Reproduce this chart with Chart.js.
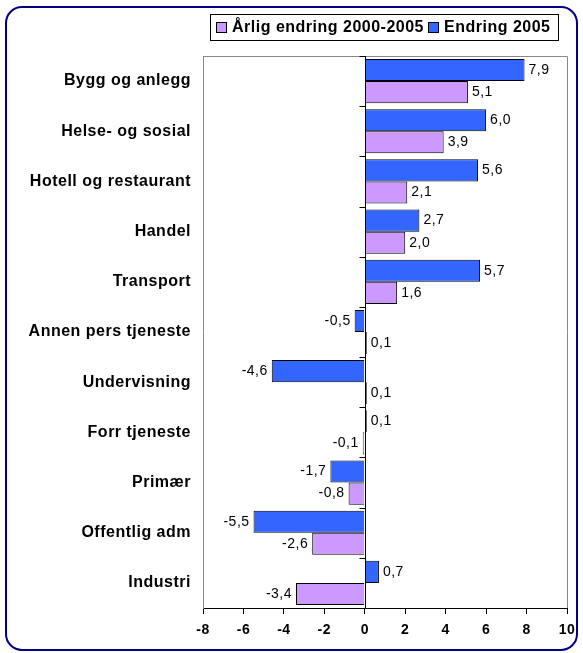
<!DOCTYPE html>
<html>
<head>
<meta charset="utf-8">
<script src="https://cdn.jsdelivr.net/npm/chart.js@4.4.0/dist/chart.umd.min.js"></script>
<style>
  html, body { margin: 0; padding: 0; background: #fff; }
  #wrap { width: 583px; height: 653px; position: relative; }
</style>
</head>
<body>
<div id="wrap"><canvas id="c" width="583" height="653"></canvas></div>
<script>
// sectors, top to bottom
const sectors = [`Bygg og anlegg`, `Helse- og sosial`, `Hotell og restaurant`, `Handel`, `Transport`,
	`Annen pers tjeneste`, `Undervisning`, `Forr tjeneste`, `Primær`, `Offentlig adm`, `Industri`]
const endring2005 = [7.9, 6.0, 5.6, 2.7, 5.7, -0.5, -4.6, 0.1, -1.7, -5.5, 0.7]
const arligEndring = [5.1, 3.9, 2.1, 2.0, 1.6, 0.1, 0.1, -0.1, -0.8, -2.6, -3.4]
const xTicks = [-8, -6, -4, -2, 0, 2, 4, 6, 8, 10]

const FONT = `"Liberation Sans", Arial, sans-serif`
const BLUE = `#3366FF`
const PURPLE = `#CC99FF`

const fmt = v => v.toFixed(1).replace(`.`, `,`)

//  frame, plot borders, zero axis, value labels and legend
const decorations = {
	id: `decorations`,
	beforeDraw(chart) {
		//  the original text is slightly spaced out
		chart.ctx.letterSpacing = `0.5px`
	},
	afterDatasetsDraw(chart) {
		const {ctx, chartArea: a, scales: {x}} = chart
		ctx.save()
		//  gray plot border (top + right)
		ctx.strokeStyle = `#888`
		ctx.lineWidth = 1
		ctx.beginPath()
		ctx.moveTo(a.left, a.top + 0.5)
		ctx.lineTo(a.right + 0.5, a.top + 0.5)
		ctx.lineTo(a.right + 0.5, a.bottom)
		ctx.stroke()
		//  zero axis with category tick marks
		const x0 = Math.round(x.getPixelForValue(0)) + 0.5
		ctx.strokeStyle = `#000`
		ctx.beginPath()
		ctx.moveTo(x0, a.top)
		ctx.lineTo(x0, a.bottom)
		const step = (a.bottom - a.top) / sectors.length
		for (let i = 0; i < sectors.length; i++) {
			const y = Math.round(a.top + i * step) + 0.5
			ctx.moveTo(x0 - 6, y)
			ctx.lineTo(x0, y)
		}
		ctx.stroke()
		//  value labels
		ctx.font = `14px ${FONT}`
		ctx.letterSpacing = `0.5px`
		ctx.fillStyle = `#000`
		ctx.textBaseline = `middle`
		chart.data.datasets.forEach((ds, di) => {
			chart.getDatasetMeta(di).data.forEach((bar, i) => {
				const v = ds.data[i]
				if (v >= 0) {
					ctx.textAlign = `left`
					ctx.fillText(fmt(v), bar.x + 4, bar.y)
				} else {
					ctx.textAlign = `right`
					ctx.fillText(fmt(v), bar.x - 4, bar.y)
				}
			})
		})
		ctx.restore()
	},
	afterDraw(chart) {
		const {ctx} = chart
		ctx.save()
		//  rounded frame
		ctx.strokeStyle = `#000080`
		ctx.lineWidth = 2
		ctx.beginPath()
		ctx.roundRect(6, 7, 571, 643, 16)
		ctx.stroke()
		//  legend box (purple item first)
		ctx.strokeStyle = `#000`
		ctx.lineWidth = 1
		ctx.strokeRect(210.5, 14.5, 348, 26)
		ctx.font = `bold 16px ${FONT}`
		ctx.letterSpacing = `0.5px`
		ctx.textBaseline = `middle`
		ctx.textAlign = `left`
		let lx = 216
		const items = [...chart.data.datasets].reverse()
		items.forEach(ds => {
			ctx.fillStyle = ds.backgroundColor
			ctx.fillRect(lx + 0.5, 22.5, 10, 10)
			ctx.strokeRect(lx + 0.5, 22.5, 10, 10)
			ctx.fillStyle = `#000`
			ctx.fillText(ds.label, lx + 16, 28)
			lx += 16 + ctx.measureText(ds.label).width + 4
		})
		ctx.restore()
	}
}

new Chart(document.getElementById(`c`), {
	type: `bar`,
	data: {
		labels: sectors,
		datasets: [
			{label: `Endring 2005`, data: endring2005, backgroundColor: BLUE, borderColor: `#000`, borderWidth: 1},
			{label: `Årlig endring 2000-2005`, data: arligEndring, backgroundColor: PURPLE, borderColor: `#000`, borderWidth: 1}
		]
	},
	options: {
		indexAxis: `y`,
		responsive: false,
		animation: false,
		categoryPercentage: 0.88,
		barPercentage: 1,
		layout: {padding: {top: 56, right: 16, left: 0, bottom: 0}},
		plugins: {legend: {display: false}, tooltip: {enabled: false}},
		scales: {
			x: {
				min: -8,
				max: 10,
				afterBuildTicks: scale => { scale.ticks = xTicks.map(v => ({value: v})) },
				afterFit: scale => { scale.height = 45 },
				grid: {drawOnChartArea: false, tickLength: 6, color: `#000`},
				border: {color: `#000`},
				ticks: {color: `#000`, font: {family: FONT, size: 14, weight: `bold`}, padding: 8, maxRotation: 0}
			},
			y: {
				afterFit: scale => { scale.width = 203 },
				grid: {display: false},
				border: {color: `#888`},
				ticks: {color: `#000`, font: {family: FONT, size: 16, weight: `bold`}, padding: 4, autoSkip: false}
			}
		}
	},
	plugins: [decorations]
})
</script>
</body>
</html>
